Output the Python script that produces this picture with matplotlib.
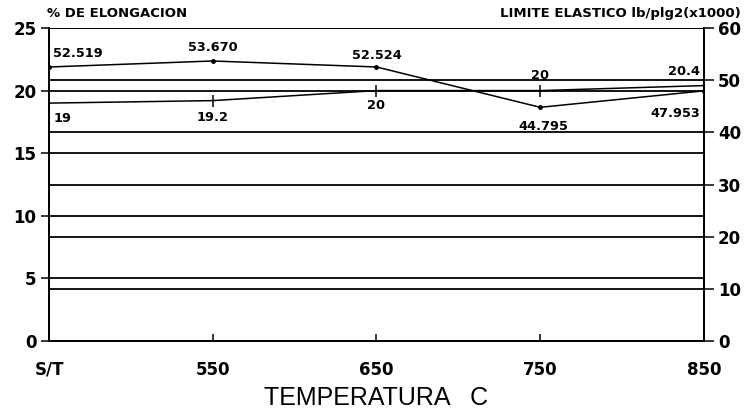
import matplotlib
matplotlib.use('Agg')
import matplotlib.pyplot as plt
import numpy as np

# temperature categories on the x axis
temps = ['S/T', '550', '650', '750', '850']
elongacion = [19, 19.2, 20, 20, 20.4]                    # % (left axis)
limite = [52.519, 53.670, 52.524, 44.795, 47.953]        # lb/plg2 x1000 (right axis)
elong_labels = ['19', '19.2', '20', '20', '20.4']
limite_labels = ['52.519', '53.670', '52.524', '44.795', '47.953']

left_ticks = [0, 5, 10, 15, 20, 25]
right_ticks = [0, 10, 20, 30, 40, 50, 60]

plt.rcParams['font.family'] = ['DejaVu Sans']

fig = plt.figure(figsize=(7.47, 4.11), dpi=100)
ax = fig.add_axes([0.0656, 0.170, 0.8768, 0.762])
ax2 = ax.twinx()

x = np.arange(len(temps))
ax.set_xlim(0, len(temps) - 1)
ax.set_ylim(0, 25)
ax2.set_ylim(0, 60)

# gridlines for both scales
for v in left_ticks[1:]:
    ax.axhline(v, color='black', lw=1.3, zorder=1)
for v in right_ticks[1:]:
    ax2.axhline(v, color='black', lw=1.3, zorder=1)

ax.plot(x, elongacion, color='black', lw=1.1, marker='|', ms=9, mew=1.1, zorder=3)
ax2.plot(x, limite, color='black', lw=1.1, marker='o', ms=2.5, zorder=3)

# value labels: (dx, dy) offsets in points, horizontal alignment
elong_pos = [((3, -11), 'left'), ((0, -12), 'center'), ((0, -11), 'center'),
             ((0, 11), 'center'), ((-3, 10), 'right')]
limite_pos = [((3, 10), 'left'), ((0, 10), 'center'), ((0, 8), 'center'),
              ((2, -14), 'center'), ((-3, -16), 'right')]
lab_font = dict(fontsize=9.3, fontweight='bold', va='center')
for i in range(len(temps)):
    (dx, dy), ha = elong_pos[i]
    ax.annotate(elong_labels[i], (x[i], elongacion[i]), xytext=(dx, dy),
                textcoords='offset points', ha=ha, **lab_font)
    (dx, dy), ha = limite_pos[i]
    ax2.annotate(limite_labels[i], (x[i], limite[i]), xytext=(dx, dy),
                 textcoords='offset points', ha=ha, **lab_font)

ax.set_xticks(x)
ax.set_xticklabels(temps, fontsize=12, fontweight='bold')
ax.set_yticks(left_ticks)
ax.set_yticklabels([str(v) for v in left_ticks], fontsize=12, fontweight='bold')
ax2.set_yticks(right_ticks)
ax2.set_yticklabels([str(v) for v in right_ticks], fontsize=12, fontweight='bold')

ax.tick_params(axis='x', direction='in', length=5, width=1.1, pad=14)
ax.tick_params(axis='y', direction='out', length=6, width=1.1, pad=3)
ax2.tick_params(axis='y', direction='out', length=7, width=1.1, pad=3)

for a in (ax, ax2):
    a.spines['top'].set_visible(False)
    for s in ('left', 'right', 'bottom'):
        a.spines[s].set_linewidth(1.3)

ax.set_xlabel('TEMPERATURA   C', fontsize=18, family='Liberation Sans',
              va='center')
ax.xaxis.set_label_coords(0.5, -0.18)

fig.text(0.063, 0.968, '% DE ELONGACION', fontsize=9.5, fontweight='bold',
         ha='left', va='center')
fig.text(0.991, 0.968, 'LIMITE ELASTICO lb/plg2(x1000)', fontsize=9.5,
         fontweight='bold', ha='right', va='center')

fig.savefig('out.png', dpi=100)
